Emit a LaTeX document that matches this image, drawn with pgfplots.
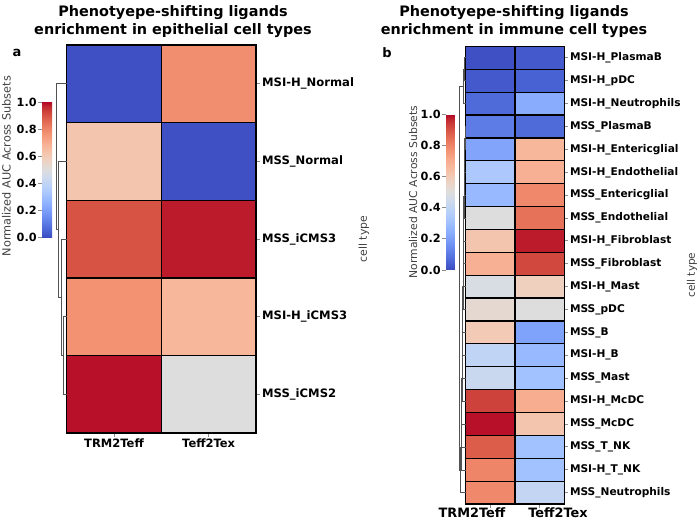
\documentclass[border=0pt]{standalone}
\usepackage{pgfplots}
\usepackage{pgfplotstable}
\pgfplotsset{compat=1.18}
\usepackage{fontspec}
\setmainfont{DejaVu Sans}
\pgfplotsset{
  colormap={coolwarm}{rgb255=(59,76,192) rgb255=(68,90,204) rgb255=(77,104,215) rgb255=(87,117,225)
    rgb255=(98,130,234) rgb255=(108,142,241) rgb255=(119,154,247) rgb255=(130,165,251)
    rgb255=(141,176,254) rgb255=(152,185,255) rgb255=(163,194,255) rgb255=(174,201,253)
    rgb255=(184,208,249) rgb255=(194,213,244) rgb255=(204,217,238) rgb255=(213,219,230)
    rgb255=(221,221,221) rgb255=(229,216,209) rgb255=(236,211,197) rgb255=(241,204,184)
    rgb255=(245,196,172) rgb255=(247,187,160) rgb255=(247,177,148) rgb255=(247,166,135)
    rgb255=(244,154,123) rgb255=(241,141,111) rgb255=(236,127,99) rgb255=(229,112,88)
    rgb255=(222,96,77) rgb255=(213,80,66) rgb255=(203,62,56) rgb255=(192,40,47) rgb255=(180,4,38)},
}
% r = row index counted from the top
\pgfplotstableread{
x r c
0 4 0.99
1 4 0.50
0 3 0.77
1 3 0.67
0 2 0.90
1 2 0.98
0 1 0.62
1 1 0.01
0 0 0.01
1 0 0.78
}\lefttab
\pgfplotstableread{
x r c
0 19 0.79
1 19 0.41
0 18 0.80
1 18 0.31
0 17 0.88
1 17 0.31
0 16 0.99
1 16 0.62
0 15 0.93
1 15 0.70
0 14 0.43
1 14 0.31
0 13 0.40
1 13 0.28
0 12 0.60
1 12 0.21
0 11 0.53
1 11 0.50
0 10 0.48
1 10 0.58
0 9 0.69
1 9 0.92
0 8 0.62
1 8 0.98
0 7 0.50
1 7 0.84
0 6 0.28
1 6 0.79
0 5 0.34
1 5 0.69
0 4 0.22
1 4 0.67
0 3 0.11
1 3 0.07
0 2 0.07
1 2 0.24
0 1 0.03
1 1 0.05
0 0 0.01
1 0 0.03
}\righttab
\pgfplotsset{
  hm/.style={
    scale only axis, anchor=south west,
    xmin=-0.5, xmax=1.5,
    colormap name=coolwarm, point meta min=0, point meta max=1,
    xtick={0,1}, xtick pos=bottom, ytick pos=right, yticklabel pos=right,
    tick align=outside, major tick length=3.5pt,
    tick style={black!45, line width=0.8pt},
    minor tick length=0pt,
    minor xtick={0.5},
    xminorgrids, yminorgrids,
    axis on top,
  },
  cb/.style={
    yticklabel pos=left, ytick pos=left,
    ytick={0,0.2,0.4,0.6,0.8,1}, yticklabels={0.0,0.2,0.4,0.6,0.8,1.0},
    axis line style={draw=none},
    tick align=outside, major tick length=3.8pt,
    tick style={black!45, line width=0.8pt},
    yticklabel style={font=\bfseries\fontsize{11.3}{13}\selectfont, inner sep=1.5pt},
  },
  dendro/.style={black!68, line width=1pt, line cap=rect},
}
\begin{document}
\begin{tikzpicture}
\path[use as bounding box] (0pt,0pt) rectangle (698pt,522pt);

% ---------- left heatmap ----------
\begin{axis}[hm,
  at={(66.7pt,89pt)}, width=189.3pt, height=388pt,
  ymin=-0.5, ymax=4.5, ytick={0,1,2,3,4},
  minor ytick={0.5,1.5,2.5,3.5},
  minor grid style={black, line width=1.4pt},
  axis line style={black, line width=1.4pt},
  xticklabels={TRM2Teff,Teff2Tex},
  yticklabels={MSS\_iCMS2,MSI-H\_iCMS3,MSS\_iCMS3,MSS\_Normal,MSI-H\_Normal},
  yticklabel style={font=\bfseries\fontsize{11.6}{13}\selectfont, inner sep=2.5pt},
  xticklabel style={font=\bfseries\fontsize{11.5}{13}\selectfont, inner sep=2pt},
  colorbar,
  colorbar style={cb, at={(parent axis.south west)}, anchor=south east,
    xshift=-23pt, yshift=195.5pt, width=10pt, height=135.5pt},
]
\addplot[matrix plot*, mesh/cols=2, point meta=explicit] table[x=x, y expr={4-\thisrow{r}}, meta=c] {\lefttab};
\end{axis}

% ---------- right heatmap ----------
\begin{axis}[hm,
  at={(465.7pt,18pt)}, width=98.6pt, height=457.6pt,
  ymin=-0.5, ymax=19.5, ytick={0,1,...,19},
  minor ytick={0.5,1.5,...,18.5},
  minor grid style={black, line width=1.2pt},
  axis line style={black, line width=1.2pt},
  xticklabels={,},
  yticklabels={MSS\_Neutrophils,MSI-H\_T\_NK,MSS\_T\_NK,MSS\_McDC,MSI-H\_McDC,MSS\_Mast,MSI-H\_B,MSS\_B,MSS\_pDC,MSI-H\_Mast,
    MSS\_Fibroblast,MSI-H\_Fibroblast,MSS\_Endothelial,MSS\_Entericglial,MSI-H\_Endothelial,MSI-H\_Entericglial,
    MSS\_PlasmaB,MSI-H\_Neutrophils,MSI-H\_pDC,MSI-H\_PlasmaB},
  yticklabel style={font=\bfseries\fontsize{10.6}{12}\selectfont, inner sep=2pt},
  colorbar,
  colorbar style={cb, at={(parent axis.south west)}, anchor=south east,
    xshift=-19.4pt, yshift=234pt, width=8.6pt, height=155.7pt},
]
\addplot[matrix plot*, mesh/cols=2, point meta=explicit] table[x=x, y expr={19-\thisrow{r}}, meta=c] {\righttab};
\end{axis}

% ---------- dendrograms ----------
\begin{axis}[at={(0pt,0pt)}, anchor=south west, scale only axis, width=698pt, height=522pt,
  xmin=0, xmax=698, ymin=0, ymax=522, y dir=reverse, hide axis, clip=false]
% left
\addplot[dendro] coordinates {(66.7,316.6) (63,316.6) (63,394.2) (66.7,394.2)};
\addplot[dendro] coordinates {(66.7,239) (61.8,239) (61.8,355.4) (63,355.4)};
\addplot[dendro] coordinates {(66.7,161.4) (58,161.4) (58,297.2) (61.8,297.2)};
\addplot[dendro] coordinates {(66.7,83.8) (56.7,83.8) (56.7,229.3) (58,229.3)};
% right
\addplot[dendro] coordinates {(465.7,57.85) (464.2,57.85) (464.2,80.75) (465.7,80.75)};
\addplot[dendro] coordinates {(464.2,69.3) (463.5,69.3) (463.5,103.65) (465.7,103.65)};
\addplot[dendro] coordinates {(465.7,126.55) (465.0,126.55) (465.0,149.45) (465.7,149.45)};
\addplot[dendro] coordinates {(465.0,138.0) (464.73,138.0) (464.73,172.35) (465.7,172.35)};
\addplot[dendro] coordinates {(464.73,155.18) (464.46,155.18) (464.46,195.25) (465.7,195.25)};
\addplot[dendro] coordinates {(464.46,175.21) (464.19,175.21) (464.19,218.15) (465.7,218.15)};
\addplot[dendro] coordinates {(464.19,196.68) (463.92,196.68) (463.92,241.05) (465.7,241.05)};
\addplot[dendro] coordinates {(463.92,218.87) (463.65,218.87) (463.65,263.95) (465.7,263.95)};
\addplot[dendro] coordinates {(463.65,241.41) (463.38,241.41) (463.38,286.85) (465.7,286.85)};
\addplot[dendro] coordinates {(463.38,264.13) (463.11,264.13) (463.11,309.75) (465.7,309.75)};
\addplot[dendro] coordinates {(463.11,286.94) (462.84,286.94) (462.84,332.65) (465.7,332.65)};
\addplot[dendro] coordinates {(462.84,309.80) (462.57,309.80) (462.57,355.55) (465.7,355.55)};
\addplot[dendro] coordinates {(462.57,332.67) (462.30,332.67) (462.30,378.45) (465.7,378.45)};
\addplot[dendro] coordinates {(462.30,355.56) (462.03,355.56) (462.03,401.35) (465.7,401.35)};
\addplot[dendro] coordinates {(462.03,378.46) (461.76,378.46) (461.76,424.25) (465.7,424.25)};
\addplot[dendro] coordinates {(461.76,401.35) (461.49,401.35) (461.49,447.15) (465.7,447.15)};
\addplot[dendro] coordinates {(461.49,424.25) (461.22,424.25) (461.22,470.05) (465.7,470.05)};
\addplot[dendro] coordinates {(461.22,447.15) (460.95,447.15) (460.95,492.95) (465.7,492.95)};
\addplot[dendro] coordinates {(463.5,86.48) (459.5,86.48) (459.5,470.05) (460.95,470.05)};
\end{axis}

% ---------- texts ----------
\node[anchor=base, font=\bfseries\fontsize{14.4}{16}\selectfont] at (173pt,505pt) {Phenotyepe-shifting ligands};
\node[anchor=base, font=\bfseries\fontsize{14.4}{16}\selectfont] at (173pt,487pt) {enrichment in epithelial cell types};
\node[anchor=base, font=\bfseries\fontsize{14.4}{16}\selectfont] at (514pt,505pt) {Phenotyepe-shifting ligands};
\node[anchor=base, font=\bfseries\fontsize{14.4}{16}\selectfont] at (514pt,487pt) {enrichment in immune cell types};
\node[anchor=base, font=\bfseries\fontsize{13}{15}\selectfont, inner sep=0pt] at (17pt,465pt) {a};
\node[anchor=base, font=\bfseries\fontsize{13}{15}\selectfont, inner sep=0pt] at (387pt,464pt) {b};
\node[anchor=base, font=\bfseries\fontsize{12.9}{15}\selectfont, inner sep=0pt] at (472pt,4.5pt) {TRM2Teff};
\node[anchor=base, font=\bfseries\fontsize{12.9}{15}\selectfont, inner sep=0pt] at (558pt,4.5pt) {Teff2Tex};
\node[rotate=90, font=\fontsize{11.3}{13}\selectfont, text=black!75] at (6.5pt,356pt) {Normalized AUC Across Subsets};
\node[rotate=90, font=\fontsize{10.8}{13}\selectfont, text=black!75] at (413pt,330pt) {Normalized AUC Across Subsets};
\node[rotate=90, font=\fontsize{10.8}{13}\selectfont, text=black!75] at (364pt,283pt) {cell type};
\node[rotate=90, font=\fontsize{10.5}{13}\selectfont, text=black!75] at (692pt,247pt) {cell type};
\end{tikzpicture}
\end{document}
